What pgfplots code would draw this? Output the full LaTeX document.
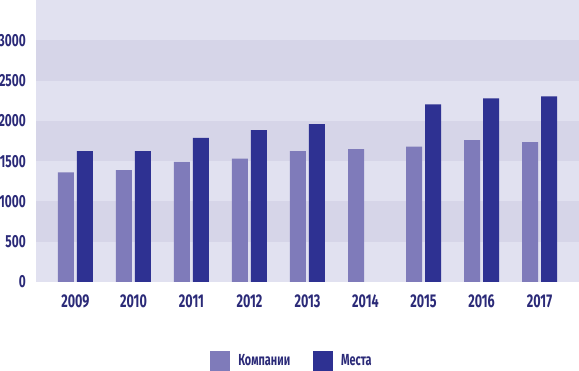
\documentclass[border=0pt]{standalone}
\usepackage{fontspec}
\setmainfont{Fira Sans}[FakeStretch=0.68]
\usepackage{pgfplots}
\pgfplotsset{compat=1.18}
\definecolor{bgA}{HTML}{E1E1F0}
\definecolor{bgB}{HTML}{D6D5E8}
\definecolor{barA}{HTML}{7F7BBA}
\definecolor{barB}{HTML}{2E3192}
\definecolor{txt}{HTML}{2B2A78}
\begin{document}
\begin{tikzpicture}
\path[use as bounding box] (0,0) rectangle (579pt,371pt);
\begin{axis}[
  at={(36pt,89pt)}, anchor=south west,
  scale only axis, width=543pt, height=282pt,
  xmin=-0.68, xmax=8.68, ymin=0, ymax=3500,
  axis line style={draw=none},
  axis background/.style={fill=bgA},
  ytick={0,500,...,3000},
  xtick={0,...,8},
  xticklabels={2009,2010,2011,2012,2013,2014,2015,2016,2017},
  major tick length=0pt,
  /pgf/number format/assume math mode=true,
  /pgf/number format/1000 sep={},
  tick label style={font=\fontsize{17.5}{19}\selectfont\bfseries, text=txt, inner sep=0pt},
  yticklabel style={anchor=east, xshift=-10pt},
  xticklabel style={anchor=base, yshift=-26pt, font=\fontsize{18.5}{20}\selectfont\bfseries},
  ybar=3pt, bar width=16pt,
  legend style={at={(0.4696,-0.280)}, anchor=center, draw=none, fill=none,
    legend columns=2, font=\fontsize{16}{18}\selectfont\bfseries, text=txt,
    nodes={inner sep=0pt},
    /tikz/every odd column/.append style={column sep=8pt},
    /tikz/every even column/.append style={column sep=23pt}},
  legend image code/.code={\fill[#1] (0pt,-10pt) rectangle (20pt,10pt);},
]
\fill[bgB] (axis cs:-0.68,500) rectangle (axis cs:8.68,1000);
\fill[bgB] (axis cs:-0.68,1500) rectangle (axis cs:8.68,2000);
\fill[bgB] (axis cs:-0.68,2500) rectangle (axis cs:8.68,3000);
\addplot[fill=barA, draw=none] coordinates {(0,1360)(1,1390)(2,1490)(3,1530)(4,1625)(5,1650)(6,1680)(7,1760)(8,1735)};
\addplot[fill=barB, draw=none] coordinates {(0,1625)(1,1625)(2,1790)(3,1885)(4,1960)(6,2205)(7,2280)(8,2305)};
\legend{Компании, Места}
\end{axis}
\end{tikzpicture}
\end{document}
